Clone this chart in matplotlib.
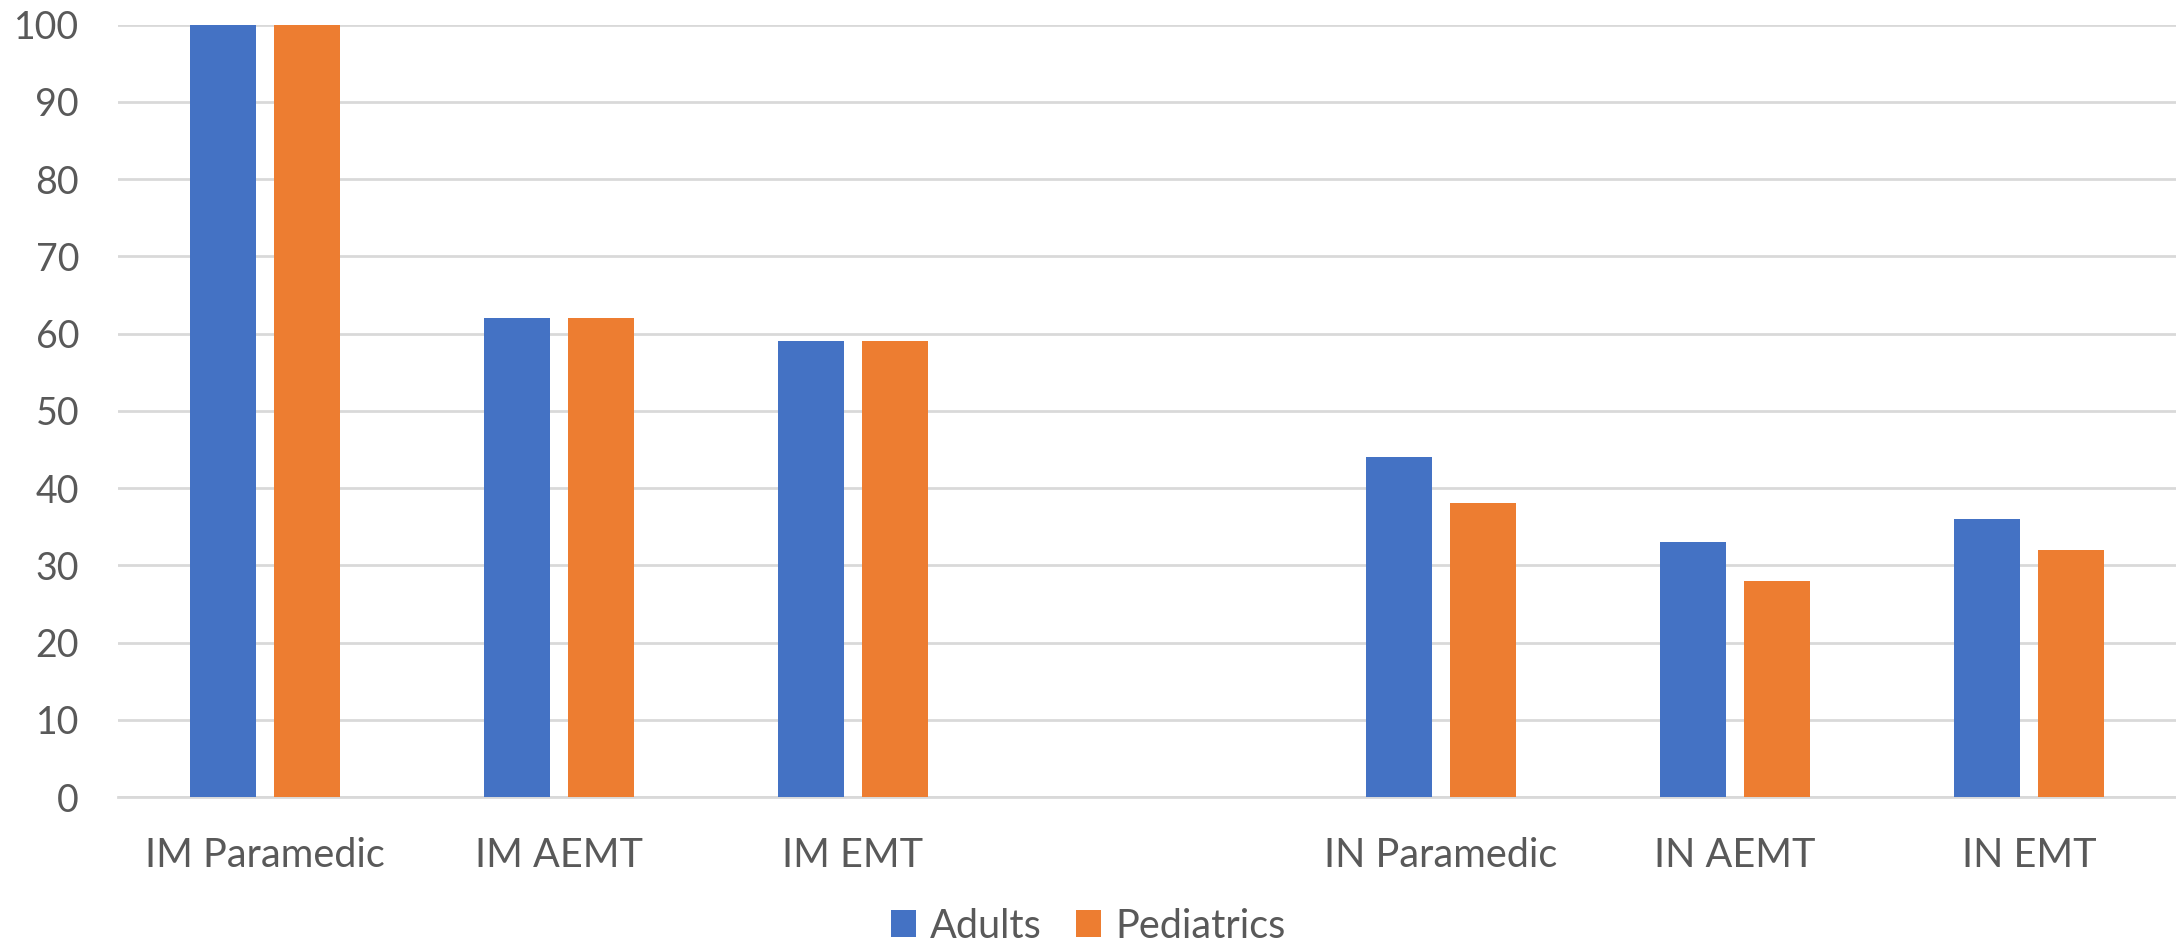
import numpy as np
import matplotlib
matplotlib.use("Agg")
import matplotlib.pyplot as plt

categories = ["IM Paramedic", "IM AEMT", "IM EMT", "", "IN Paramedic", "IN AEMT", "IN EMT"]
adults = [100, 62, 59, np.nan, 44, 33, 36]
pediatrics = [100, 62, 59, np.nan, 38, 28, 32]
yticks = [0, 10, 20, 30, 40, 50, 60, 70, 80, 90, 100]

plt.rcParams['font.family'] = ['Lato', 'DejaVu Sans']

fig = plt.figure(figsize=(21.76, 9.44), dpi=100)
ax = fig.add_axes([118/2176, 147/944, 1 - 118/2176, (797-24.5)/944])

x = np.arange(len(categories))
w = 0.224
off = 0.142
ax.bar(x - off, adults, width=w, color="#4472C4", label="Adults", zorder=3)
ax.bar(x + off, pediatrics, width=w, color="#ED7D31", label="Pediatrics", zorder=3)

ax.set_xlim(-0.5, len(categories) - 0.5)
ax.set_ylim(0, 100)
ax.set_yticks(yticks)
ax.set_xticks(x)
ax.set_xticklabels(categories)
ax.yaxis.grid(True, color="#D9D9D9", linewidth=2, zorder=0)
ax.set_axisbelow(True)
for s in ["top", "right", "left"]:
    ax.spines[s].set_visible(False)
ax.spines["bottom"].set_color("#D9D9D9")
ax.spines["bottom"].set_linewidth(2)
ax.tick_params(axis="both", length=0, labelcolor="#595959")
ax.tick_params(axis="y", labelsize=27, pad=28)
ax.tick_params(axis="x", labelsize=28.5, pad=29)

leg = fig.legend(loc="center", bbox_to_anchor=(0.5, 1 - 926/944), ncol=2, frameon=False,
                 fontsize=28.5, handlelength=0.65, handleheight=0.65, handletextpad=0.35,
                 columnspacing=0.85, labelcolor="#595959")

fig.savefig("out.png", dpi=100)
